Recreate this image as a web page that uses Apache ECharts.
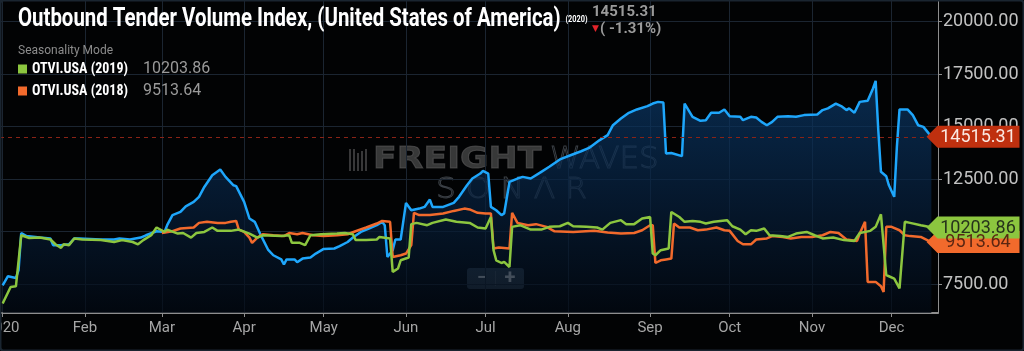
<!DOCTYPE html>
<html>
<head>
<meta charset="utf-8">
<script src="https://cdn.jsdelivr.net/npm/echarts@6/dist/echarts.min.js"></script>
<style>
  html, body { margin: 0; padding: 0; background: #000; }
  #chart { width: 1024px; height: 351px; }
</style>
</head>
<body>
<div id="chart"></div>
<script>
// [day of 2020 (0 = Jan 1), index value]
const otvi2020 = [
  [0, 7450], [2, 7880], [5, 7800], [6, 8170], [7, 9940], [9, 9790], [14, 9720], [18, 9680],
  [19, 9360], [22, 9360], [25, 9400], [27, 9680], [29, 9680], [37, 9630], [42, 9630], [44, 9680],
  [48, 9630], [52, 9720], [54, 9830], [58, 10020], [61, 9990], [62, 10310], [64, 10790], [67, 10940],
  [69, 11210], [72, 11420], [74, 11660], [76, 12130], [79, 12690], [82, 12960], [84, 12610], [87, 12210],
  [88, 12170], [91, 11420], [93, 10630], [95, 10470], [97, 9910], [100, 9150], [102, 8880], [105, 8680],
  [106, 8440], [107, 8680], [110, 8680], [111, 8550], [113, 8720], [116, 8770], [118, 8960], [121, 9180],
  [125, 9200], [127, 9310], [130, 9510], [132, 9720], [135, 9990], [138, 10150], [141, 10310], [143, 10470],
  [144, 10310], [145, 8800], [147, 9120], [148, 9630], [150, 9630], [152, 11370], [154, 11020], [157, 11100],
  [159, 11180], [161, 11530], [162, 11180], [166, 11180], [170, 11370], [172, 11660], [175, 12210], [177, 12530],
  [180, 12770], [181, 12900], [183, 12770], [184, 11180], [186, 11020], [188, 10790], [189, 10870], [191, 12370],
  [194, 12530], [196, 12610], [199, 12530], [203, 12850], [206, 13090], [210, 13440], [214, 13640], [218, 13830],
  [221, 13990], [225, 14360], [228, 14600], [230, 15070], [233, 15390], [236, 15660], [239, 15820], [243, 15980],
  [245, 16100], [247, 16180], [249, 16150], [250, 13720], [252, 13750], [256, 13600], [257, 16100], [260, 15470],
  [263, 15280], [265, 15310], [267, 15660], [270, 15660], [272, 15820], [274, 15500], [278, 15470], [279, 15310],
  [282, 15470], [284, 15440], [286, 15230], [288, 15070], [290, 15230], [292, 15470], [296, 15500], [299, 15470],
  [302, 15550], [307, 15580], [309, 15790], [311, 15870], [314, 16100], [316, 15980], [318, 15790], [319, 15870],
  [321, 15660], [323, 16180], [326, 16230], [328, 16820], [329, 17180], [330, 14830], [331, 12850], [333, 12640],
  [334, 12210], [336, 11660], [337, 14040], [338, 15820], [341, 15820], [343, 15550], [345, 15070], [347, 14990],
  [349, 14680], [350, 14515.31]
];
const otvi2019 = [
  [0, 6580], [3, 7370], [5, 7400], [7, 9830], [10, 9700], [14, 9720], [18, 9630], [20, 9390],
  [22, 9230], [23, 9400], [25, 9360], [27, 9680], [30, 9630], [37, 9600], [42, 9510], [45, 9600],
  [49, 9510], [51, 9400], [53, 9600], [56, 9830], [58, 10200], [61, 9990], [62, 10100], [66, 9910],
  [68, 9940], [71, 9720], [73, 9940], [76, 9990], [79, 10200], [81, 10040], [86, 10040], [89, 10100],
  [93, 9910], [96, 9720], [98, 9830], [105, 9790], [108, 9830], [109, 9470], [112, 9470], [114, 9360],
  [116, 9830], [120, 9880], [126, 9910], [129, 9940], [132, 9880], [133, 9600], [137, 9600], [141, 9630],
  [142, 9750], [146, 9680], [147, 8090], [149, 8250], [150, 8640], [153, 8770], [154, 10360], [156, 10420],
  [160, 10310], [162, 10420], [167, 10580], [171, 10470], [176, 10420], [179, 10200], [182, 10150], [184, 10700],
  [185, 9120], [186, 8640], [188, 8510], [189, 8560], [191, 8320], [192, 10230], [195, 10310], [199, 10100],
  [203, 10100], [206, 10230], [210, 10260], [213, 10420], [215, 10260], [220, 10230], [224, 10200], [226, 10100],
  [229, 10420], [233, 10550], [235, 10360], [238, 10360], [241, 10630], [244, 10700], [245, 8960], [246, 8880],
  [248, 9120], [251, 9200], [252, 10940], [255, 10700], [257, 10470], [260, 10510], [263, 10470], [265, 10390],
  [268, 10470], [273, 10550], [275, 10260], [278, 10100], [280, 9880], [282, 10070], [284, 10040], [287, 10150],
  [289, 9830], [293, 9800], [296, 9750], [299, 9910], [303, 9990], [306, 9830], [309, 9680], [313, 9720],
  [317, 9600], [321, 9560], [323, 9940], [327, 10040], [329, 10230], [331, 10830], [333, 7930], [334, 7880],
  [336, 7770], [338, 7300], [340, 10470], [342, 10420], [346, 10310], [348, 10260], [350, 10203.86]
];
const otvi2018 = [
  [60, 9940], [64, 10020], [67, 10150], [72, 10200], [74, 10420], [77, 10470], [81, 10420], [84, 10420],
  [86, 10470], [88, 10510], [89, 10100], [91, 9990], [93, 9720], [94, 9470], [96, 9720], [98, 9880],
  [102, 9830], [106, 9790], [108, 9940], [111, 9880], [113, 9940], [117, 9830], [121, 9800], [126, 9830],
  [130, 9880], [133, 10020], [137, 10200], [141, 10390], [143, 10510], [146, 10470], [147, 8800], [150, 8880],
  [152, 8960], [154, 9360], [155, 10900], [157, 10790], [161, 10790], [166, 10870], [170, 10990], [174, 11100],
  [176, 11060], [179, 10900], [182, 10870], [184, 10870], [185, 9200], [187, 9250], [191, 9200], [192, 10900],
  [194, 10420], [198, 10310], [201, 10360], [205, 10230], [208, 10020], [215, 9990], [223, 10040], [228, 9960],
  [233, 9910], [238, 9940], [241, 10070], [244, 10310], [245, 10310], [246, 8510], [248, 8640], [250, 8680],
  [252, 8720], [253, 10390], [255, 10200], [259, 10200], [262, 10070], [265, 10100], [269, 10200], [272, 10070],
  [274, 10040], [277, 9560], [279, 9400], [282, 9400], [284, 9630], [288, 9680], [290, 9790], [294, 9750],
  [297, 9680], [301, 9750], [305, 9750], [309, 9830], [312, 9990], [315, 9940], [318, 9630], [322, 9560],
  [323, 9910], [325, 10470], [326, 7610], [329, 7610], [331, 7400], [332, 7130], [333, 10230], [335, 10230],
  [338, 10070], [340, 9830], [342, 9790], [346, 9750], [349, 9560], [350, 9513.64]
];
const seriesNames = ['OTVI.USA (2020)', 'OTVI.USA (2019)', 'OTVI.USA (2018)'];
const monthNames = ['Jan', 'Feb', 'Mar', 'Apr', 'May', 'Jun', 'Jul', 'Aug', 'Sep', 'Oct', 'Nov', 'Dec'];
const yTicks = [7500, 10000, 12500, 15000, 17500, 20000];
const changePct = -1.31;

const colors = { y2020: '#1ea6fb', y2019: '#8cc63f', y2018: '#f26a2c' };
const condensed = "'Roboto Condensed', 'DejaVu Sans Condensed', Roboto, sans-serif";

const toTime = d => new Date(2020, 0, 1 + d).getTime();
const toPoints = arr => arr.map(([d, v]) => [toTime(d), v]);
const lastValue = arr => arr[arr.length - 1][1];
const xMin = toTime(-1);
const xMax = toTime(352) + 12 * 3600 * 1000;

function priceTag(value, bg, fg) {
  return {
    silent: true,
    symbol: 'path://M0,11 L11,0 L93,0 L93,22 L11,22 Z',
    symbolSize: [93, 22],
    symbolOffset: [35, 0],
    itemStyle: { color: bg },
    label: {
      show: true, position: 'inside', offset: [5, 1],
      color: fg, fontSize: 18, fontFamily: 'Roboto',
      formatter: () => value.toFixed(2)
    },
    data: [{ coord: [xMax, value] }]
  };
}

const legendValues = {
  [seriesNames[1]]: lastValue(otvi2019).toFixed(2),
  [seriesNames[2]]: lastValue(otvi2018).toFixed(2)
};

const chart = echarts.init(document.getElementById('chart'));
chart.setOption({
  backgroundColor: '#020304',
  animation: false,
  title: [
    {
      text: '{p|' + lastValue(otvi2020).toFixed(2) + '}\n{a|▼}{c|( ' + changePct.toFixed(2) + '%)}',
      left: 592, top: 4, padding: 0,
      textStyle: {
        rich: {
          p: { fontFamily: 'Roboto', fontSize: 15, color: '#9a9a9a', lineHeight: 17 },
          a: { fontFamily: 'DejaVu Sans', fontSize: 9, color: '#e3242b', padding: [0, 1, 1, 0] },
          c: { fontFamily: 'Roboto', fontSize: 15, color: '#9a9a9a', lineHeight: 17 }
        }
      }
    },
    {
      text: 'Seasonality Mode',
      left: 18, top: 45, padding: 0,
      textStyle: { fontFamily: 'Roboto', fontWeight: 'normal', fontSize: 12, color: '#8c8c8c' }
    }
  ],
  legend: {
    data: [seriesNames[1], seriesNames[2]],
    orient: 'vertical', left: 18, top: 61, padding: 0, itemGap: 6,
    itemWidth: 9, itemHeight: 9, icon: 'rect', selectedMode: false,
    formatter: name => '{n|' + name + '}{v|' + legendValues[name] + '}',
    textStyle: {
      rich: {
        n: { fontFamily: condensed, fontWeight: 'bold', fontSize: 14, color: '#ffffff', width: 111, lineHeight: 18 },
        v: { fontFamily: 'Roboto', fontSize: 16, color: '#9a9a9a', lineHeight: 18 }
      }
    }
  },
  grid: { left: 0, right: 86, top: 0, bottom: 38, containLabel: false, outerBoundsMode: 'none' },
  xAxis: {
    type: 'time', min: xMin, max: xMax, splitNumber: 12,
    axisLine: { lineStyle: { color: '#8e8e8e', width: 2 } },
    axisTick: { show: true, length: 4, lineStyle: { color: '#8e8e8e' } },
    axisLabel: {
      color: '#a6a6a6', fontSize: 15, fontFamily: 'Roboto', margin: 8, hideOverlap: false,
      formatter: v => {
        const d = new Date(v);
        return d.getMonth() === 0 ? String(d.getFullYear()) : monthNames[d.getMonth()];
      }
    },
    splitLine: { show: true, lineStyle: { color: '#1b2531', width: 1 } }
  },
  yAxis: {
    type: 'value', position: 'right', min: 6130, max: 21030,
    axisLine: { show: true, lineStyle: { color: '#8e8e8e' } },
    axisTick: { show: true, length: 4, customValues: yTicks, lineStyle: { color: '#8e8e8e' } },
    axisLabel: {
      customValues: yTicks, margin: 5, color: '#c2c2c2', fontSize: 18, fontFamily: 'Roboto',
      formatter: v => v.toFixed(2)
    },
    splitLine: { show: true, lineStyle: { color: '#1b2531', width: 1 } }
  },
  graphic: [
    // title, narrowed to the condensed face of the original
    {
      type: 'text', x: 18, y: 7, scaleX: 0.816, silent: true, z: 5,
      style: {
        text: '{t|Outbound Tender Volume Index, (United States of America)}{y|(2020)}',
        rich: {
          t: { fontFamily: 'Roboto', fontWeight: 'bold', fontSize: 25, fill: '#ffffff' },
          y: { fontFamily: 'Roboto', fontWeight: 'bold', fontSize: 9, fill: '#ffffff', padding: [0, 0, 0, 6] }
        }
      }
    },
    // FreightWaves SONAR watermark
    { type: 'group', silent: true, z: 1, children: [
      { type: 'rect', shape: { x: 349, y: 149, width: 2, height: 22 }, style: { fill: 'rgba(110,110,110,0.5)' } },
      { type: 'rect', shape: { x: 353, y: 149, width: 2, height: 22 }, style: { fill: 'rgba(110,110,110,0.5)' } },
      { type: 'rect', shape: { x: 357, y: 153, width: 2, height: 18 }, style: { fill: 'rgba(110,110,110,0.5)' } },
      { type: 'rect', shape: { x: 361, y: 151, width: 2, height: 20 }, style: { fill: 'rgba(110,110,110,0.5)' } },
      { type: 'rect', shape: { x: 365, y: 149, width: 2, height: 22 }, style: { fill: 'rgba(110,110,110,0.5)' } },
      { type: 'text', x: 373, y: 160, scaleX: 1.12, style: { text: 'FREIGHT', fill: 'rgba(100,100,100,0.55)', stroke: 'rgba(100,100,100,0.55)', lineWidth: 1, font: '900 31px "DejaVu Sans", sans-serif', verticalAlign: 'middle' } },
      { type: 'text', x: 550, y: 160, style: { text: 'WAVES', fill: 'none', stroke: 'rgba(115,125,135,0.5)', lineWidth: 1, font: '300 31px "DejaVu Sans", sans-serif', verticalAlign: 'middle' } },
      { type: 'text', x: 436, y: 190, scaleX: 1.08, style: { text: 'S O N Λ R', fill: 'none', stroke: 'rgba(115,125,135,0.5)', lineWidth: 1, font: '300 29px "DejaVu Sans", sans-serif', verticalAlign: 'middle' } }
    ] },
    // zoom buttons
    { type: 'group', silent: true, z: 10, children: [
      { type: 'rect', shape: { x: 467, y: 268, width: 57, height: 21, r: 3 }, style: { fill: 'rgba(52,66,80,0.9)' } },
      { type: 'line', shape: { x1: 495.5, y1: 271, x2: 495.5, y2: 286 }, style: { stroke: 'rgba(255,255,255,0.12)' } },
      { type: 'text', x: 482, y: 278.5, style: { text: '−', fill: '#d6dade', font: 'bold 18px Roboto', align: 'center', verticalAlign: 'middle' } },
      { type: 'text', x: 510, y: 278.5, style: { text: '+', fill: '#d6dade', font: 'bold 20px Roboto', align: 'center', verticalAlign: 'middle' } }
    ] },
    // frame
    { type: 'rect', silent: true, z: 20, shape: { x: 0.5, y: 0.5, width: 1023, height: 350, r: 3 }, style: { fill: 'none', stroke: '#1a2530', lineWidth: 2 } }
  ],
  series: [
    {
      name: seriesNames[0], type: 'line', data: toPoints(otvi2020), showSymbol: false,
      lineStyle: { color: colors.y2020, width: 2.5 }, itemStyle: { color: colors.y2020 },
      areaStyle: {
        color: {
          type: 'linear', x: 0, y: 60, x2: 0, y2: 313, global: true,
          colorStops: [{ offset: 0, color: '#0c3f74' }, { offset: 0.55, color: '#07213f' }, { offset: 1, color: '#020913' }]
        }
      },
      markLine: {
        silent: true, symbol: ['none', 'none'], label: { show: false },
        lineStyle: { color: '#8a2316', type: [4, 4], width: 1 },
        data: [{ yAxis: lastValue(otvi2020) }]
      },
      markPoint: priceTag(lastValue(otvi2020), '#bf300f', '#fbe9e2')
    },
    {
      name: seriesNames[2], type: 'line', data: toPoints(otvi2018), showSymbol: false,
      lineStyle: { color: colors.y2018, width: 2.5 }, itemStyle: { color: colors.y2018 },
      markPoint: priceTag(lastValue(otvi2018), colors.y2018, '#5a2612')
    },
    {
      name: seriesNames[1], type: 'line', data: toPoints(otvi2019), showSymbol: false,
      lineStyle: { color: colors.y2019, width: 2.5 }, itemStyle: { color: colors.y2019 },
      markPoint: priceTag(lastValue(otvi2019), colors.y2019, '#26331b')
    }
  ]
});
</script>
</body>
</html>
